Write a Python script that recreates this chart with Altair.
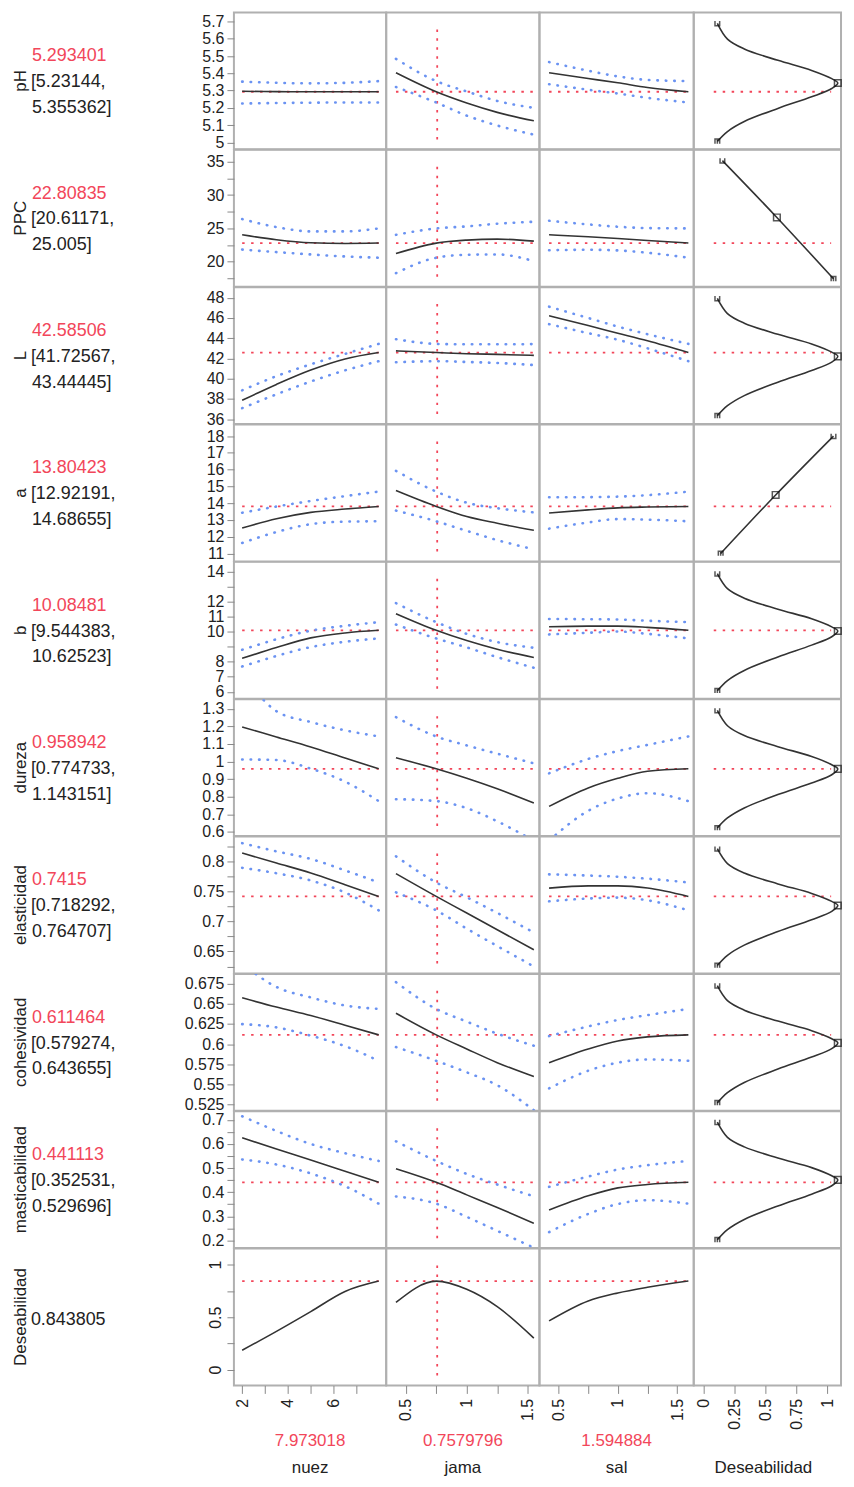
import altair as alt
import pandas as pd

FONT = "Liberation Sans"
BLUE = "#6b93f2"
RED = "#f2465a"
BLACK = "#333333"
BORDER = "#b0b0b0"

# ---------------- data ----------------
responses = ["pH", "PPC", "L", "a", "b", "dureza", "elasticidad",
             "cohesividad", "masticabilidad", "Deseabilidad"]
pred = [5.293401, 22.80835, 42.58506, 13.80423, 10.08481, 0.958942,
        0.7415, 0.611464, 0.441113, 0.843805]
pred_text = ["5.293401", "22.80835", "42.58506", "13.80423", "10.08481",
             "0.958942", "0.7415", "0.611464", "0.441113", "0.843805"]
ci_lo_text = ["[5.23144,", "[20.61171,", "[41.72567,", "[12.92191,",
              "[9.544383,", "[0.774733,", "[0.718292,", "[0.579274,",
              "[0.352531,", ""]
ci_hi_text = ["5.355362]", "25.005]", "43.44445]", "14.68655]", "10.62523]",
              "1.143151]", "0.764707]", "0.643655]", "0.529696]", ""]

y_domains = [[4.96, 5.752], [16.27, 36.77], [35.51, 49.05], [10.53, 18.69],
             [5.54, 14.63], [0.576, 1.355], [0.6135, 0.841],
             [0.5173, 0.6872], [0.1684, 0.7357], [-0.15, 1.153]]
y_major = [[5, 5.1, 5.2, 5.3, 5.4, 5.5, 5.6, 5.7],
           [20, 25, 30, 35],
           [36, 38, 40, 42, 44, 46, 48],
           [11, 12, 13, 14, 15, 16, 17, 18],
           [6, 7, 8, 10, 11, 12, 14],
           [0.6, 0.7, 0.8, 0.9, 1, 1.1, 1.2, 1.3],
           [0.65, 0.7, 0.75, 0.8],
           [0.525, 0.55, 0.575, 0.6, 0.625, 0.65, 0.675],
           [0.2, 0.3, 0.4, 0.5, 0.6, 0.7],
           [0, 0.5, 1]]
y_minor = [[], [17.5, 22.5, 27.5, 32.5], [], [], [9, 13], [],
           [0.625, 0.675, 0.725, 0.775, 0.825], [],
           [0.25, 0.35, 0.45, 0.55, 0.65], [0.25, 0.75]]

factors = ["nuez", "jama", "sal"]
factor_now = [7.973018, 0.7579796, 1.594884]
factor_now_text = ["7.973018", "0.7579796", "1.594884"]
x_domains = [[1.64, 8.30], [0.34, 1.596], [0.339, 1.64], [-0.082, 1.11]]
x_major = [[2, 4, 6], [0.5, 1, 1.5], [0.5, 1, 1.5], [0, 0.25, 0.5, 0.75, 1]]
x_minor = [[3, 5, 7], [0.75, 1.25], [0.75, 1.25], []]

nuez_grid = [2, 3.5, 5, 6.5, 7.973018]
jama_grid = [0.42, 0.75, 1.0, 1.25, 1.55]
sal_grid = [0.42, 0.75, 1.0, 1.25, 1.594884]

nuez_mean = [[5.296, 5.294, 5.293, 5.293, 5.293],
             [24.04, 23.3, 22.85, 22.75, 22.81],
             [37.86, 39.43, 40.85, 41.95, 42.585],
             [12.52, 13.07, 13.45, 13.65, 13.804],
             [8.22, 8.94, 9.58, 9.91, 10.085],
             [1.197, 1.14, 1.083, 1.02, 0.959],
             [0.8136, 0.797, 0.7805, 0.761, 0.7415],
             [0.6575, 0.646, 0.6355, 0.6235, 0.6115],
             [0.6255, 0.579, 0.5335, 0.487, 0.4411],
             [0.185, 0.365, 0.553, 0.745, 0.844]]
nuez_lo = [[5.225, 5.228, 5.23, 5.231, 5.231],
           [21.83, 21.45, 21.1, 20.8, 20.61],
           [37.08, 38.45, 39.72, 40.82, 41.73],
           [11.63, 12.28, 12.75, 12.9, 12.92],
           [7.68, 8.38, 8.97, 9.32, 9.544],
           [1.012, 1.009, 0.96, 0.886, 0.775],
           [0.789, 0.78, 0.768, 0.748, 0.7183],
           [0.6249, 0.6208, 0.6105, 0.5975, 0.5793],
           [0.5356, 0.515, 0.478, 0.425, 0.3525],
           []]
nuez_hi = [[5.352, 5.345, 5.342, 5.345, 5.355],
           [26.4, 25.2, 24.55, 24.55, 25.0],
           [38.84, 40.25, 41.42, 42.45, 43.44],
           [13.43, 13.8, 14.13, 14.42, 14.69],
           [8.79, 9.49, 10.06, 10.38, 10.625],
           [1.5, 1.287, 1.225, 1.178, 1.143],
           [0.830, 0.8164, 0.8038, 0.7848, 0.7647],
           [0.70, 0.671, 0.658, 0.648, 0.6437],
           [0.715, 0.654, 0.600, 0.562, 0.5297],
           []]

jama_mean = [[5.403, 5.293, 5.228, 5.174, 5.125],
             [21.23, 22.8, 23.25, 23.4, 23.1],
             [42.75, 42.585, 42.47, 42.4, 42.3],
             [14.75, 13.804, 13.2, 12.8, 12.38],
             [11.19, 10.085, 9.4, 8.82, 8.28],
             [1.022, 0.959, 0.905, 0.845, 0.764],
             [0.7793, 0.7415, 0.714, 0.686, 0.6528],
             [0.6383, 0.6115, 0.594, 0.577, 0.5597],
             [0.4974, 0.4411, 0.389, 0.337, 0.2713],
             [0.64, 0.843, 0.765, 0.6, 0.30]]
jama_lo = [[5.321, 5.231, 5.155, 5.098, 5.045],
           [18.29, 20.61, 21.05, 21.1, 20.1],
           [41.62, 41.73, 41.65, 41.55, 41.35],
           [13.56, 12.92, 12.35, 11.8, 11.25],
           [10.47, 9.544, 8.95, 8.3, 7.6],
           [0.786, 0.775, 0.735, 0.66, 0.55],
           [0.7482, 0.7183, 0.688, 0.659, 0.625],
           [0.5964, 0.5793, 0.565, 0.549, 0.518],
           [0.3823, 0.3525, 0.298, 0.24, 0.17],
           []]
jama_hi = [[5.484, 5.355, 5.295, 5.24, 5.20],
           [24.04, 25.0, 25.3, 25.7, 26.0],
           [43.9, 43.44, 43.4, 43.4, 43.42],
           [15.93, 14.69, 14.03, 13.7, 13.45],
           [11.89, 10.625, 9.85, 9.3, 8.92],
           [1.253, 1.143, 1.092, 1.045, 0.99],
           [0.8082, 0.7647, 0.740, 0.714, 0.6815],
           [0.677, 0.6437, 0.628, 0.613, 0.598],
           [0.6112, 0.5297, 0.476, 0.432, 0.383],
           []]

sal_mean = [[5.403, 5.37, 5.345, 5.318, 5.293],
            [24.04, 23.75, 23.5, 23.2, 22.81],
            [46.23, 45.25, 44.5, 43.75, 42.585],
            [13.41, 13.6, 13.72, 13.77, 13.804],
            [10.32, 10.36, 10.36, 10.28, 10.085],
            [0.745, 0.85, 0.905, 0.945, 0.959],
            [0.7553, 0.759, 0.759, 0.7555, 0.7415],
            [0.577, 0.594, 0.604, 0.609, 0.6115],
            [0.326, 0.385, 0.418, 0.432, 0.4411],
            [0.465, 0.655, 0.731, 0.785, 0.844]]
sal_lo = [[5.337, 5.305, 5.283, 5.258, 5.231],
          [21.73, 21.8, 21.7, 21.35, 20.61],
          [45.39, 44.5, 43.85, 43.0, 41.73],
          [12.48, 12.85, 13.05, 13.02, 12.92],
          [9.81, 9.92, 10.0, 9.85, 9.544],
          [0.55, 0.72, 0.79, 0.82, 0.775],
          [0.7334, 0.738, 0.7395, 0.735, 0.7183],
          [0.545, 0.567, 0.577, 0.581, 0.5793],
          [0.2343, 0.31, 0.351, 0.367, 0.3525],
          []]
sal_hi = [[5.465, 5.415, 5.382, 5.362, 5.355],
          [26.15, 25.6, 25.25, 25.05, 25.0],
          [47.12, 46.0, 45.15, 44.4, 43.44],
          [14.35, 14.36, 14.39, 14.48, 14.69],
          [10.84, 10.82, 10.8, 10.72, 10.625],
          [0.933, 1.015, 1.06, 1.095, 1.143],
          [0.7782, 0.7762, 0.7742, 0.771, 0.7647],
          [0.610, 0.622, 0.630, 0.636, 0.6437],
          [0.4222, 0.465, 0.494, 0.512, 0.5297],
          []]

# desirability functions (x = desirability, y = response)
bell_d = [0.109, 0.191, 0.327, 0.599, 0.872, 1.035, 1.084,
          1.035, 0.872, 0.599, 0.327, 0.191, 0.109]
des_d = [bell_d, [0.15, 0.591, 1.049], bell_d, [0.136, 0.581, 1.049],
         bell_d, bell_d, bell_d, bell_d, bell_d]
des_y = [[5.689, 5.598, 5.541, 5.475, 5.417, 5.369, 5.344, 5.312, 5.264, 5.197, 5.121, 5.063, 5.006],
         [35.15, 26.64, 17.45],
         [47.94, 46.44, 45.49, 44.39, 43.43, 42.62, 42.21, 41.64, 40.81, 39.65, 38.32, 37.32, 36.32],
         [11.0, 14.49, 18.0],
         [13.85, 12.85, 12.22, 11.49, 10.85, 10.31, 10.04, 9.655, 9.10, 8.31, 7.42, 6.75, 6.07],
         [1.291, 1.204, 1.148, 1.085, 1.029, 0.982, 0.958, 0.925, 0.878, 0.812, 0.736, 0.679, 0.622],
         [0.8208, 0.7961, 0.7804, 0.7623, 0.7465, 0.7332, 0.7264, 0.7167, 0.7027, 0.683, 0.6605, 0.6436, 0.6266],
         [0.6726, 0.654, 0.6422, 0.6286, 0.6167, 0.6067, 0.6016, 0.5944, 0.5839, 0.5691, 0.5524, 0.5397, 0.527],
         [0.6905, 0.6277, 0.588, 0.542, 0.502, 0.4681, 0.4509, 0.4268, 0.3921, 0.343, 0.2871, 0.2449, 0.2027]]
sq_d = [1.084, 0.591, 1.084, 0.581, 1.084, 1.084, 1.084, 1.084, 1.084]
sq_y = [5.344, 26.64, 42.21, 14.49, 10.04, 0.958, 0.7264, 0.6016, 0.4509]
top_d = [0.109, 0.15, 0.109, 1.049, 0.109, 0.109, 0.109, 0.109, 0.109]
top_y = [5.689, 35.15, 47.94, 18.0, 13.85, 1.291, 0.8208, 0.6726, 0.6905]
bot_d = [0.109, 1.049, 0.109, 0.136, 0.109, 0.109, 0.109, 0.109, 0.109]
bot_y = [5.006, 17.45, 36.32, 11.0, 6.07, 0.622, 0.6266, 0.527, 0.2027]
des_ref_span = [0.08, 1.03]

grids = [nuez_grid, jama_grid, sal_grid]
means = [nuez_mean, jama_mean, sal_mean]
los = [nuez_lo, jama_lo, sal_lo]
his = [nuez_hi, jama_hi, sal_hi]

# ---------------- layout ----------------
H = 137.5
LABEL_W = 226
COL_W = [153, 154, 155, 148]
NR = len(responses)
LAST = NR - 1
TXT = "#222222"
VAL_FS = 18


def lbl_expr(major):
    arr = "[" + ",".join(repr(float(v)) for v in major) + "]"
    return ("indexof(" + arr + ", round(datum.value*1000)/1000) >= 0 ? "
            "format(datum.value, '~g') : ''")


def y_axis(r):
    kw = dict(values=sorted(y_major[r] + y_minor[r]), labelExpr=lbl_expr(y_major[r]),
              labelFontSize=16, labelFont=FONT, labelColor=TXT,
              tickColor="#888888", tickSize=7, domain=False, grid=False,
              labelOverlap=False, labelFlush=False, labelPadding=3)
    if r == LAST:
        kw.update(labelAngle=-90, labelAlign="center", labelBaseline="bottom")
    return alt.Axis(**kw)


def x_axis(c):
    return alt.Axis(values=sorted(x_major[c] + x_minor[c]), labelExpr=lbl_expr(x_major[c]),
                    labelFontSize=16, labelFont=FONT, labelColor=TXT,
                    tickColor="#888888", tickSize=8, domain=False, grid=False,
                    labelOverlap=False, labelFlush=False, labelPadding=5,
                    labelAngle=-90)


def label_panel(r):
    df = pd.DataFrame({"name": [responses[r]], "v": [pred_text[r]],
                       "lo": [ci_lo_text[r]], "hi": [ci_hi_text[r]]})
    base = alt.Chart(df)
    title = base.mark_text(angle=270, fontSize=17, font=FONT, color=TXT,
                           align="center", baseline="middle").encode(
        x=alt.value(12), y=alt.value(H / 2), text="name:N")
    if r == LAST:
        val = base.mark_text(fontSize=VAL_FS, font=FONT, color=TXT,
                             align="left", baseline="middle").encode(
            x=alt.value(22), y=alt.value(72), text="v:N")
        layers = [title, val]
    else:
        val = base.mark_text(fontSize=VAL_FS, font=FONT, color=RED,
                             align="left", baseline="middle").encode(
            x=alt.value(23), y=alt.value(44), text="v:N")
        l2 = base.mark_text(fontSize=VAL_FS, font=FONT, color=TXT,
                            align="left", baseline="middle").encode(
            x=alt.value(22), y=alt.value(70), text="lo:N")
        l3 = base.mark_text(fontSize=VAL_FS, font=FONT, color=TXT,
                            align="left", baseline="middle").encode(
            x=alt.value(23), y=alt.value(96), text="hi:N")
        layers = [title, val, l2, l3]
    return alt.layer(*layers).properties(
        width=LABEL_W, height=H, view=alt.ViewBackground(stroke="transparent"))


def enc_x(field, c, r):
    return alt.X(field, type="quantitative",
                 scale=alt.Scale(domain=x_domains[c], nice=False, zero=False),
                 axis=x_axis(c) if r == LAST else None, title=None)


def enc_y(field, r, c):
    return alt.Y(field, type="quantitative",
                 scale=alt.Scale(domain=y_domains[r], nice=False, zero=False),
                 axis=y_axis(r) if c == 0 else None, title=None)


def factor_panel(r, c):
    grid = grids[c]
    layers = []
    ref = pd.DataFrame({"x0": [grid[0]], "x1": [grid[-1]], "y": [pred[r]]})
    layers.append(alt.Chart(ref).mark_rule(color=RED, strokeDash=[2.5, 6.5], strokeWidth=1.8).encode(
        x=enc_x("x0", c, r), x2="x1", y=enc_y("y", r, c)))
    if c == 1:
        vref = pd.DataFrame({"x": [factor_now[1]]})
        layers.append(alt.Chart(vref).mark_rule(color=RED, strokeDash=[2.5, 6.5], strokeWidth=1.8).encode(
            x=enc_x("x", c, r), y=alt.value(17), y2=alt.value(H - 7)))
    df = pd.DataFrame({"x": grid, "m": means[c][r]})
    if los[c][r]:
        df["lo"] = los[c][r]
        df["hi"] = his[c][r]
        for f in ["lo", "hi"]:
            layers.append(alt.Chart(df).mark_line(
                color=BLUE, strokeWidth=2.6, strokeDash=[0.5, 8], strokeCap="round",
                interpolate="monotone", clip=True).encode(
                x=enc_x("x", c, r), y=enc_y(f, r, c)))
    layers.append(alt.Chart(df).mark_line(color=BLACK, strokeWidth=1.6,
                                          interpolate="monotone", clip=True).encode(
        x=enc_x("x", c, r), y=enc_y("m", r, c)))
    if r == LAST:
        tdf = pd.DataFrame({"v": [factor_now_text[c]], "n": [factors[c]]})
        layers.append(alt.Chart(tdf).mark_text(color=RED, fontSize=17, font=FONT,
                                               baseline="middle").encode(
            x=alt.value(COL_W[c] / 2), y=alt.value(H + 56), text="v:N"))
        layers.append(alt.Chart(tdf).mark_text(color=TXT, fontSize=17, font=FONT,
                                               baseline="middle").encode(
            x=alt.value(COL_W[c] / 2), y=alt.value(H + 83), text="n:N"))
    return alt.layer(*layers).properties(width=COL_W[c], height=H)


def des_panel(r):
    c = 3
    if r == LAST:
        d = pd.DataFrame({"d": [0.0], "n": ["Deseabilidad"]})
        pts = alt.Chart(d).mark_point(opacity=0).encode(x=enc_x("d", c, r))
        txt = alt.Chart(d).mark_text(color=TXT, fontSize=17, font=FONT,
                                     baseline="middle").encode(
            x=alt.value(COL_W[c] / 2 - 4), y=alt.value(H + 83), text="n:N")
        return alt.layer(pts, txt).properties(width=COL_W[c], height=H)
    ref = pd.DataFrame({"x0": [des_ref_span[0]], "x1": [des_ref_span[1]], "y": [pred[r]]})
    rule = alt.Chart(ref).mark_rule(color=RED, strokeDash=[2.5, 6.5], strokeWidth=1.8).encode(
        x=enc_x("x0", c, r), x2="x1", y=enc_y("y", r, c))
    cdf = pd.DataFrame({"d": des_d[r], "y": des_y[r], "i": list(range(len(des_d[r])))})
    curve = alt.Chart(cdf).mark_line(color=BLACK, strokeWidth=1.6,
                                     interpolate="catmull-rom", clip=True).encode(
        x=enc_x("d", c, r), y=enc_y("y", r, c), order="i:Q")
    sq = alt.Chart(pd.DataFrame({"d": [sq_d[r]], "y": [sq_y[r]]})).mark_point(
        shape="square", filled=False, size=45, color="#111111", strokeWidth=1.5).encode(
        x=enc_x("d", c, r), y=enc_y("y", r, c))
    tp = alt.Chart(pd.DataFrame({"d": [top_d[r]], "y": [top_y[r]]})).mark_point(
        shape="M-1,-1V1H1V-1", filled=False, size=22, color="#111111", strokeWidth=1.5).encode(
        x=enc_x("d", c, r), y=enc_y("y", r, c))
    bt = alt.Chart(pd.DataFrame({"d": [bot_d[r]], "y": [bot_y[r]]})).mark_point(
        shape="M-1,1V-1H1V1M0,-1V1", filled=False, size=22, color="#111111", strokeWidth=1.5).encode(
        x=enc_x("d", c, r), y=enc_y("y", r, c))
    return alt.layer(rule, curve, sq, tp, bt).properties(width=COL_W[c], height=H)


charts = []
for r in range(NR):
    charts.append(label_panel(r))
    for c in range(3):
        charts.append(factor_panel(r, c))
    charts.append(des_panel(r))

chart = alt.concat(*charts, columns=5, spacing=0, bounds="flush").properties(
    padding=0
).configure_view(stroke=BORDER, strokeWidth=2).configure_text(font=FONT)

chart.save("out.html", embed_options={"renderer": "svg", "actions": False})
